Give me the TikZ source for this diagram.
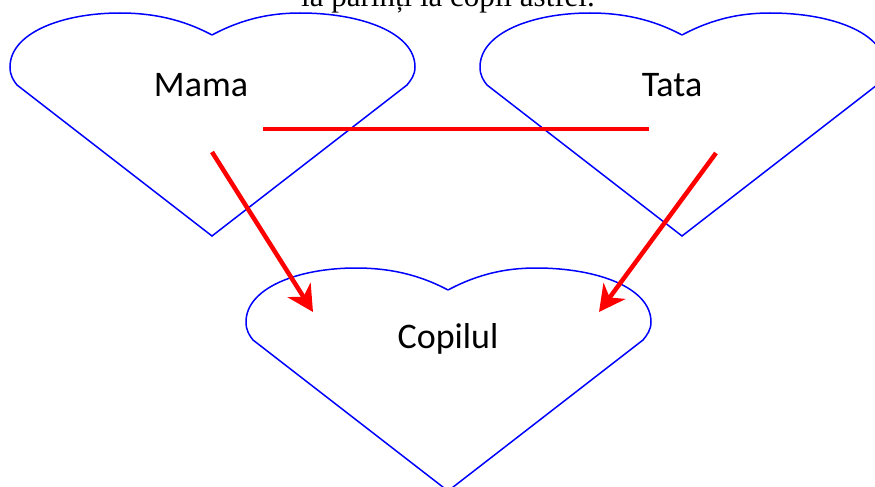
\documentclass[tikz,border=0pt]{standalone}
\usepackage{fontspec}
\setmainfont{Liberation Serif}
\newfontfamily\labelfont{Carlito}
\usetikzlibrary{arrows.meta, positioning}
\definecolor{heartline}{RGB}{0,0,255}
\definecolor{linkred}{RGB}{255,0,0}

\newcommand{\drawheart}[1]{%
	\draw[heart, shift={(#1)}] (0,0) .. controls (-30,-16) and (-60,-22) .. (-92,-22) .. controls (-150,-22) and (-202,-2) .. (-202,32) .. controls (-202,40) and (-199,45) .. (-195,50) -- (0,201) -- (195,50) .. controls (199,45) and (203,40) .. (203,32) .. controls (203,-2) and (150,-22) .. (88,-22) .. controls (58,-22) and (30,-16) .. (0,0);
}

\begin{document}
\begin{tikzpicture}[x=1pt, y=-1pt,
	heart/.style={heartline, line width=1.5pt, line join=miter},
	heartlabel/.style={font=\labelfont\fontsize{36}{43}\selectfont, anchor=base, inner sep=0pt},
	link/.style={linkred, line width=4.5pt},
	inherit/.style={link, -{Stealth[length=26pt, width=27pt, inset=8pt]}}]
	\useasboundingbox (0,0) rectangle (875,487);
	\node[anchor=base, inner sep=0pt, font=\fontsize{31}{37}\selectfont] (caption) at (448,6.5) {la părinți la copii astfel.};

	\drawheart{212,35}
	\drawheart{682,35}
	\drawheart{448,290}

	\node[heartlabel] (mama) at (201,96) {Mama};
	\node[heartlabel] (tata) at (672,96) {Tata};
	\node[heartlabel] (copil) at (448,348) {Copilul};

	\coordinate (bondleft) at (263,129);
	\coordinate (bondright) at (649,129);
	\coordinate (mamaout) at (212,152);
	\coordinate (tataout) at (716,153);
	\coordinate (copilleft) at (313,312);
	\coordinate (copilright) at (599,312);

	\draw[link] (bondleft) -- (bondright);
	\draw[inherit] (mamaout) -- (copilleft);
	\draw[inherit] (tataout) -- (copilright);
\end{tikzpicture}
\end{document}
